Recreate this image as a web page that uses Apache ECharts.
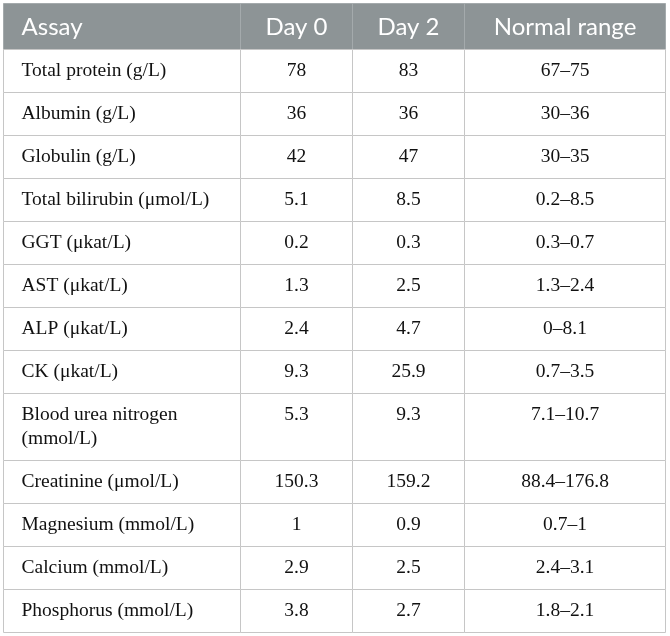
<!DOCTYPE html>
<html>
<head>
<meta charset="utf-8">
<script src="https://cdn.jsdelivr.net/npm/echarts@6/dist/echarts.min.js"></script>
<style>
  html, body { margin: 0; padding: 0; background: #fff; }
  #tableChart { width: 670px; height: 636px; }
</style>
</head>
<body>
<div id="tableChart"></div>
<script>
var tableHeaders = ['Assay', 'Day 0', 'Day 2', 'Normal range'];
var assayNames = [
  'Total protein (g/L)', 'Albumin (g/L)', 'Globulin (g/L)', 'Total bilirubin (\u03bcmol/L)',
  'GGT (\u03bckat/L)', 'AST (\u03bckat/L)', 'ALP (\u03bckat/L)', 'CK (\u03bckat/L)',
  'Blood urea nitrogen\n(mmol/L)', 'Creatinine (\u03bcmol/L)', 'Magnesium (mmol/L)',
  'Calcium (mmol/L)', 'Phosphorus (mmol/L)'
];
var day0Values = [78, 36, 42, 5.1, 0.2, 1.3, 2.4, 9.3, 5.3, 150.3, 1, 2.9, 3.8];
var day2Values = [83, 36, 47, 8.5, 0.3, 2.5, 4.7, 25.9, 9.3, 159.2, 0.9, 2.5, 2.7];
var normalRanges = [
  '67\u201375', '30\u201336', '30\u201335', '0.2\u20138.5', '0.3\u20130.7', '1.3\u20132.4',
  '0\u20138.1', '0.7\u20133.5', '7.1\u201310.7', '88.4\u2013176.8', '0.7\u20131',
  '2.4\u20133.1', '1.8\u20132.1'
];

// layout (pixels, axes map 1:1 to the canvas)
var colEdges = [3, 240, 352, 464, 665];
var tableTop = 3;
var headerHeight = 46;
var rowHeight = 43;
var lineHeight = 24;

var rowTops = [tableTop, tableTop + headerHeight];
for (var i = 0; i < assayNames.length; i++) {
  var nLines = assayNames[i].split('\n').length;
  rowTops.push(rowTops[rowTops.length - 1] + rowHeight + (nLines - 1) * lineHeight);
}

// cells: [col, row], texts kept alongside
var cellData = [];
var cellText = [];
for (var c = 0; c < tableHeaders.length; c++) {
  cellData.push([c, 0]);
  cellText.push(tableHeaders[c]);
}
for (var r = 0; r < assayNames.length; r++) {
  var rowVals = [assayNames[r], String(day0Values[r]), String(day2Values[r]), normalRanges[r]];
  for (var c2 = 0; c2 < rowVals.length; c2++) {
    cellData.push([c2, r + 1]);
    cellText.push(rowVals[c2]);
  }
}

function renderCell(params, api) {
  var col = api.value(0);
  var row = api.value(1);
  var p0 = api.coord([colEdges[col], rowTops[row]]);
  var p1 = api.coord([colEdges[col + 1], rowTops[row + 1]]);
  var x0 = Math.round(p0[0]) + 0.5, y0 = Math.round(p0[1]) + 0.5;
  var w = Math.round(p1[0]) - Math.round(p0[0]);
  var h = Math.round(p1[1]) - Math.round(p0[1]);
  var isHeader = row === 0;
  var text = cellText[params.dataIndex];
  var left = col === 0;
  var textEl;
  if (isHeader) {
    textEl = {
      type: 'text',
      style: {
        x: left ? x0 + 18 : x0 + w / 2,
        y: y0 + h / 2 + 1,
        text: text,
        align: left ? 'left' : 'center',
        verticalAlign: 'middle',
        fill: '#ffffff',
        fontFamily: 'Lato',
        fontSize: 24
      }
    };
  } else {
    textEl = {
      type: 'text',
      style: {
        x: left ? x0 + 18 : x0 + w / 2,
        y: y0 + (rowHeight - lineHeight) / 2,
        text: text,
        align: left ? 'left' : 'center',
        verticalAlign: 'top',
        lineHeight: lineHeight,
        fill: '#111111',
        fontFamily: 'Liberation Serif',
        fontSize: 19.5
      }
    };
  }
  return {
    type: 'group',
    children: [
      {
        type: 'rect',
        shape: { x: x0, y: y0, width: w, height: h },
        style: {
          fill: isHeader ? '#8d9496' : '#ffffff',
          stroke: isHeader ? '#a4aaac' : '#c6c6c6',
          lineWidth: 1
        }
      },
      textEl
    ]
  };
}

var tableChart = echarts.init(document.getElementById('tableChart'));
var tableOption = {
  animation: false,
  grid: { left: 0, right: 0, top: 0, bottom: 0 },
  xAxis: { type: 'value', min: 0, max: 670, show: false },
  yAxis: { type: 'value', min: 0, max: 636, inverse: true, show: false },
  series: [{
    type: 'custom',
    renderItem: renderCell,
    data: cellData,
    clip: false
  }]
};
tableChart.setOption(tableOption);
</script>
</body>
</html>
